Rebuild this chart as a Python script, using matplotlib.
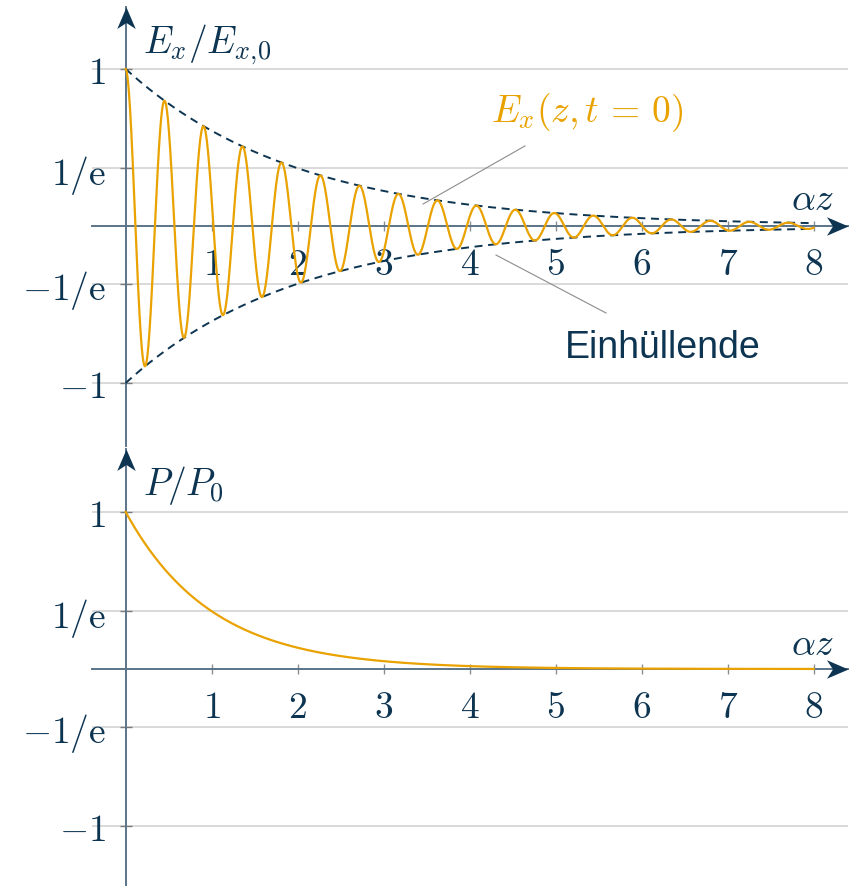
import numpy as np
import matplotlib
matplotlib.use("Agg")
import matplotlib.pyplot as plt
from matplotlib.path import Path

plt.rcParams["mathtext.fontset"] = "cm"

# --- model parameters -------------------------------------------------------
z_max = 8.0                 # range of alpha*z
field_decay = 0.5           # field amplitude decays as exp(-field_decay * alpha z)
power_decay = 1.0           # power decays as exp(-power_decay * alpha z)
wave_number = 13.86         # oscillation of E_x along alpha*z

x_ticks = [1, 2, 3, 4, 5, 6, 7, 8]
x_tick_labels = [f"${v}$" for v in x_ticks]
y_ticks = [1.0, np.exp(-1), -np.exp(-1), -1.0]
y_tick_labels = [r"$1$", r"$1/\mathrm{e}$", r"$-1/\mathrm{e}$", r"$-1$"]

# --- colours ------------------------------------------------------------------
NAVY = "#0d3552"
AXIS = "#5b7488"
TICK = "#8a8f94"
GRID = "#cfcfcf"
ORANGE = "#e9a200"
LEADER = "#8c8c8c"

FS = 27

z = np.linspace(0.0, z_max, 4000)
envelope = np.exp(-field_decay * z)
field = envelope * np.cos(wave_number * z)
power = np.exp(-power_decay * z)

W, H = 861, 887
fig = plt.figure(figsize=(W / 100, H / 100), dpi=100)

# arrow heads (stealth-like) pointing right and up
arrow_right = Path([(0, 0), (-1, 0.43), (-0.72, 0), (-1, -0.43), (0, 0)],
                   [Path.MOVETO, Path.LINETO, Path.LINETO, Path.LINETO, Path.CLOSEPOLY])
arrow_up = Path([(0, 0), (-0.43, -1), (0, -0.72), (0.43, -1), (0, 0)],
                [Path.MOVETO, Path.LINETO, Path.LINETO, Path.LINETO, Path.CLOSEPOLY])


def make_axes(top_px, bottom_px, y0_px):
    left_px, right_px, x0_px = 92, 848, 125.7
    px_x, px_y = 86.0, 157.0
    ax = fig.add_axes([left_px / W, 1 - bottom_px / H,
                       (right_px - left_px) / W, (bottom_px - top_px) / H])
    ax.set_xlim((left_px - x0_px) / px_x, (right_px - x0_px) / px_x)
    ax.set_ylim(-(bottom_px - y0_px) / px_y, (y0_px - top_px) / px_y)
    ax.patch.set_visible(False)
    for s in ("top", "right"):
        ax.spines[s].set_visible(False)
    for s in ("left", "bottom"):
        ax.spines[s].set_position(("data", 0))
        ax.spines[s].set_color(AXIS)
        ax.spines[s].set_linewidth(1.4)
    ax.set_xticks(x_ticks)
    ax.set_xticklabels(x_tick_labels)
    ax.set_yticks(y_ticks)
    ax.set_yticklabels(y_tick_labels)
    ax.tick_params(axis="x", direction="inout", length=7, width=1.0,
                   color=TICK, labelcolor=NAVY, labelsize=FS, pad=11)
    ax.tick_params(axis="y", direction="inout", length=8.5, width=1.0,
                   color="#7a7a7a", labelcolor=NAVY, labelsize=FS, pad=10)
    ax.yaxis.grid(True, color=GRID, linewidth=1.1)
    ax.set_axisbelow(True)
    ax.plot([1], [0], marker=arrow_right, markersize=31, color=NAVY, mew=0,
            transform=ax.get_yaxis_transform(), clip_on=False, zorder=5)
    ax.plot([0], [1], marker=arrow_up, markersize=31, color=NAVY, mew=0,
            transform=ax.get_xaxis_transform(), clip_on=False, zorder=5)
    return ax


DASH = (0, (4.1, 2.9))

# --- field panel --------------------------------------------------------------
ax1 = make_axes(8, 447, 227)
ax1.plot(z, envelope, color=NAVY, lw=1.4, ls=DASH, zorder=3)
ax1.plot(z, -envelope, color=NAVY, lw=1.4, ls=DASH, zorder=3)
ax1.plot(z, field, color=ORANGE, lw=1.6, zorder=4)

ax1.text(0.2, 1.108, r"$E_x/E_{x,\!0}$", color=NAVY, fontsize=FS, va="baseline", ha="left")
ax1.text(7.74, 0.108, r"$\alpha z$", color=NAVY, fontsize=FS, va="baseline", ha="left")
ax1.text(4.25, 0.671, r"$E_x(z,t\,=\,0)$", color=ORANGE, fontsize=FS, va="baseline", ha="left")
ax1.text(5.108, -0.836, "Einhüllende", color=NAVY, fontsize=FS,
         family="Liberation Sans", va="baseline", ha="left")
ax1.plot([4.643, 3.457], [0.510, 0.140], color=LEADER, lw=0.8, zorder=5)
ax1.plot([4.306, 5.585], [-0.185, -0.554], color=LEADER, lw=0.8, zorder=5)

# --- power panel --------------------------------------------------------------
ax2 = make_axes(450, 887, 670)
ax2.plot(z, power, color=ORANGE, lw=1.6, zorder=4)
ax2.text(0.2, 1.115, r"$P/P_0$", color=NAVY, fontsize=FS, va="baseline", ha="left")
ax2.text(7.74, 0.096, r"$\alpha z$", color=NAVY, fontsize=FS, va="baseline", ha="left")

fig.savefig("out.png", dpi=100)
